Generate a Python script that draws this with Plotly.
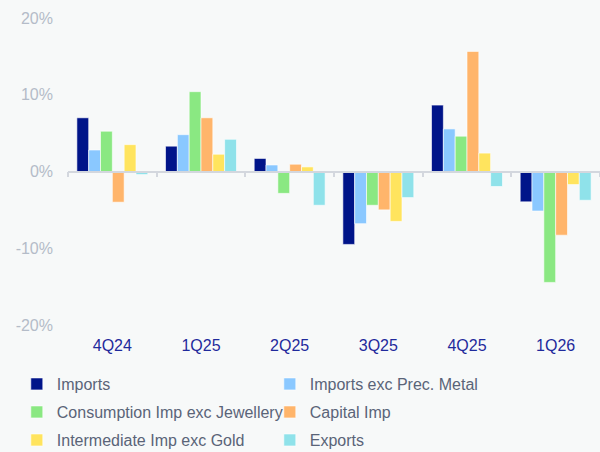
import plotly.graph_objects as go

categories = ["4Q24", "1Q25", "2Q25", "3Q25", "4Q25", "1Q26"]
series_names = ["Imports", "Imports exc Prec. Metal", "Consumption Imp exc Jewellery",
                "Capital Imp", "Intermediate Imp exc Gold", "Exports"]
imports = [7.0, 3.3, 1.7, -9.5, 8.65, -3.95]
imports_exc_prec = [2.8, 4.8, 0.85, -6.8, 5.55, -5.15]
consumption = [5.25, 10.4, -2.85, -4.4, 4.6, -14.45]
capital = [-4.0, 7.0, 0.95, -5.0, 15.65, -8.3]
intermediate = [3.5, 2.25, 0.6, -6.5, 2.4, -1.7]
exports = [-0.4, 4.2, -4.4, -3.4, -1.95, -3.75]
y_ticks = [-20, -10, 0, 10, 20]
y_tick_labels = ["-20%", "-10%", "0%", "10%", "20%"]

values = [imports, imports_exc_prec, consumption, capital, intermediate, exports]
colors = ["#001489", "#8AC8FF", "#8AE882", "#FFB56B", "#FFE45E", "#8FE2EA"]
legend_rows = ["legend", "legend", "legend2", "legend2", "legend3", "legend3"]

fig = go.Figure()
for name, vals, col, lg in zip(series_names, values, colors, legend_rows):
    fig.add_trace(go.Bar(x=categories, y=vals, name=name, marker_color=col, legend=lg,
                         marker_line_color="rgba(255,255,255,0.6)", marker_line_width=1))

# invisible trace for the zero-line axis with boundary ticks
fig.add_trace(go.Scatter(x=categories, y=[0]*len(categories), xaxis="x2", mode="markers",
                         marker_opacity=0, showlegend=False, hoverinfo="skip"))

legend_common = dict(orientation="h", xref="container", x=0.028, xanchor="left",
                     yref="container", yanchor="top",
                     entrywidth=208, entrywidthmode="pixels", traceorder="normal",
                     font=dict(size=16, color="#5A6478"), itemwidth=30,
                     bgcolor="rgba(0,0,0,0)")

fig.update_layout(
    width=600, height=452,
    margin=dict(l=68, r=0, t=18, b=127),
    paper_bgcolor="#F7F9F9", plot_bgcolor="#F7F9F9",
    barmode="group", bargap=0.2, bargroupgap=0,
    font=dict(family="Liberation Sans, Arial, sans-serif"),
    xaxis=dict(type="category", showline=False, ticks="", showgrid=False,
               ticklabelstandoff=9,
               tickfont=dict(size=16, color="#1F2A9C")),
    xaxis2=dict(type="category", overlaying="x", matches="x", anchor="free", position=0.5,
                showline=True, linecolor="#D3D7DE", linewidth=1.5,
                ticks="outside", tickson="boundaries", ticklen=5, tickcolor="#D3D7DE",
                tickwidth=1.5, showticklabels=False, showgrid=False),
    yaxis=dict(range=[-20, 20], tickmode="array", tickvals=y_ticks, ticktext=y_tick_labels,
               showgrid=False, zeroline=False, showline=False, ticklabelstandoff=14,
               tickfont=dict(size=16, color="#B4BCC8")),
    legend=dict(legend_common, y=0.188),
    legend2=dict(legend_common, y=0.126),
    legend3=dict(legend_common, y=0.064),
)

fig.write_html("out.html")
